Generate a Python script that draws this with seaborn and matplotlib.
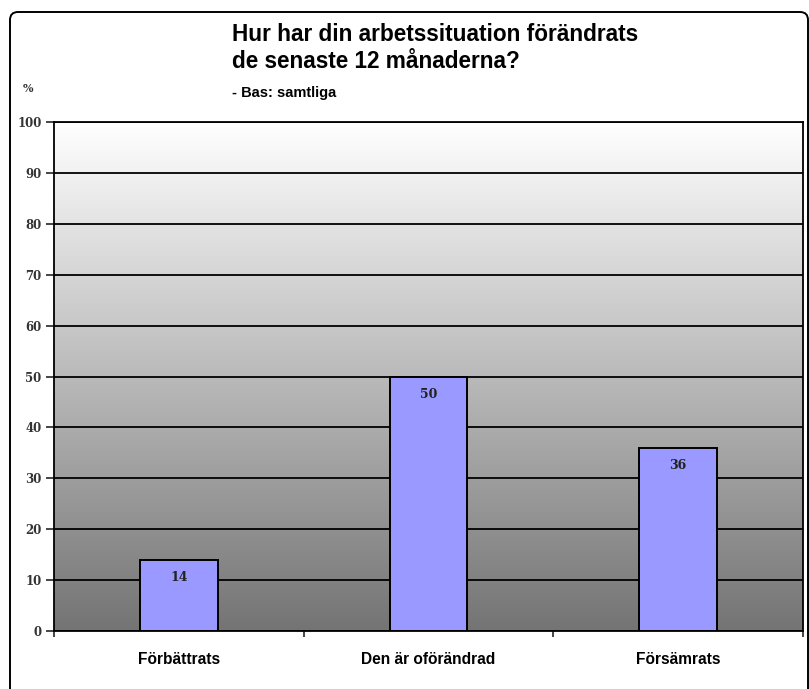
import numpy as np
import pandas as pd
import matplotlib.pyplot as plt
import seaborn as sns
from matplotlib.patches import FancyBboxPatch
from matplotlib.ticker import FixedLocator

# Data
categories = ["Förbättrats", "Den är oförändrad", "Försämrats"]
values = [14, 50, 36]
value_labels = ["14", "50", "36"]
y_ticks = list(range(0, 101, 10))

title = "Hur har din arbetssituation förändrats\nde senaste 12 månaderna?"
subtitle = "- Bas: samtliga"

sns.set_style("white")
plt.rcParams["font.family"] = ["Liberation Sans", "DejaVu Sans"]
plt.rcParams["text.color"] = "black"

df = pd.DataFrame({"kategori": categories, "procent": values})

fig = plt.figure(figsize=(8.09, 6.89), dpi=100)
ax = fig.add_axes([54 / 809, 58 / 689, 749 / 809, 509 / 689])

# grey gradient background of the plot area
grad = np.linspace(1.0, 0.0, 256).reshape(-1, 1)
ax.imshow(grad, cmap=sns.blend_palette(["#747474", "#ffffff"], as_cmap=True),
          extent=[0, 1, 0, 1], transform=ax.transAxes, aspect="auto",
          zorder=0.1, interpolation="bilinear")

sns.barplot(data=df, x="kategori", y="procent", color="#9999ff", saturation=1,
            edgecolor="black", linewidth=1.4, width=0.31, ax=ax, zorder=2)

ax.set_ylim(0, 100)
ax.set_xlim(-0.5, 2.5)
ax.set_yticks(y_ticks)
ax.set_yticklabels([str(t) for t in y_ticks], family="DejaVu Serif",
                   fontsize=8.5, fontweight="bold", color="#333333")
ax.set_axisbelow(True)
ax.yaxis.grid(True, color="black", linewidth=1.3)
ax.tick_params(axis="y", direction="out", length=6, width=1.2, pad=3, left=True)

# category labels in the middle, tick marks between the categories
ax.xaxis.set_major_locator(FixedLocator([-0.5, 0.5, 1.5, 2.5]))
ax.xaxis.set_minor_locator(FixedLocator([0, 1, 2]))
ax.set_xticklabels([], minor=False)
ax.set_xticklabels(categories, minor=True, fontsize=11.2, fontweight="bold",
                   color="black")
ax.tick_params(axis="x", which="major", direction="out", length=4, width=1.2, bottom=True)
ax.tick_params(axis="x", which="minor", length=0, pad=15)

for s in ax.spines.values():
    s.set_color("black")
    s.set_linewidth(1.3)

ax.set_xlabel("")
ax.set_ylabel("")

for i, (v, lab) in enumerate(zip(values, value_labels)):
    ax.text(i, v - 3.5, lab, ha="center", va="center", family="DejaVu Serif",
            fontsize=9, fontweight="bold", color="#222222", zorder=3)

fig.text(232 / 809, 1 - 23 / 689, title, ha="left", va="top", fontsize=16.3,
         fontweight="bold", linespacing=1.2)
fig.text(232 / 809, 1 - 93 / 689, subtitle, ha="left", va="center", fontsize=10.5,
         fontweight="bold")
fig.text(28 / 809, 1 - 88 / 689, "%", ha="center", va="center", fontsize=8,
         fontweight="bold", family="DejaVu Serif", color="#333333")

# rounded outer frame, only the top-left corner is inside the picture
frame = FancyBboxPatch((0.10, -0.3), 7.98, 7.07,
                       boxstyle="round,pad=0,rounding_size=0.08",
                       transform=fig.dpi_scale_trans, fill=False,
                       edgecolor="black", linewidth=1.4)
fig.add_artist(frame)

plt.savefig("out.png", dpi=100)
plt.close()
